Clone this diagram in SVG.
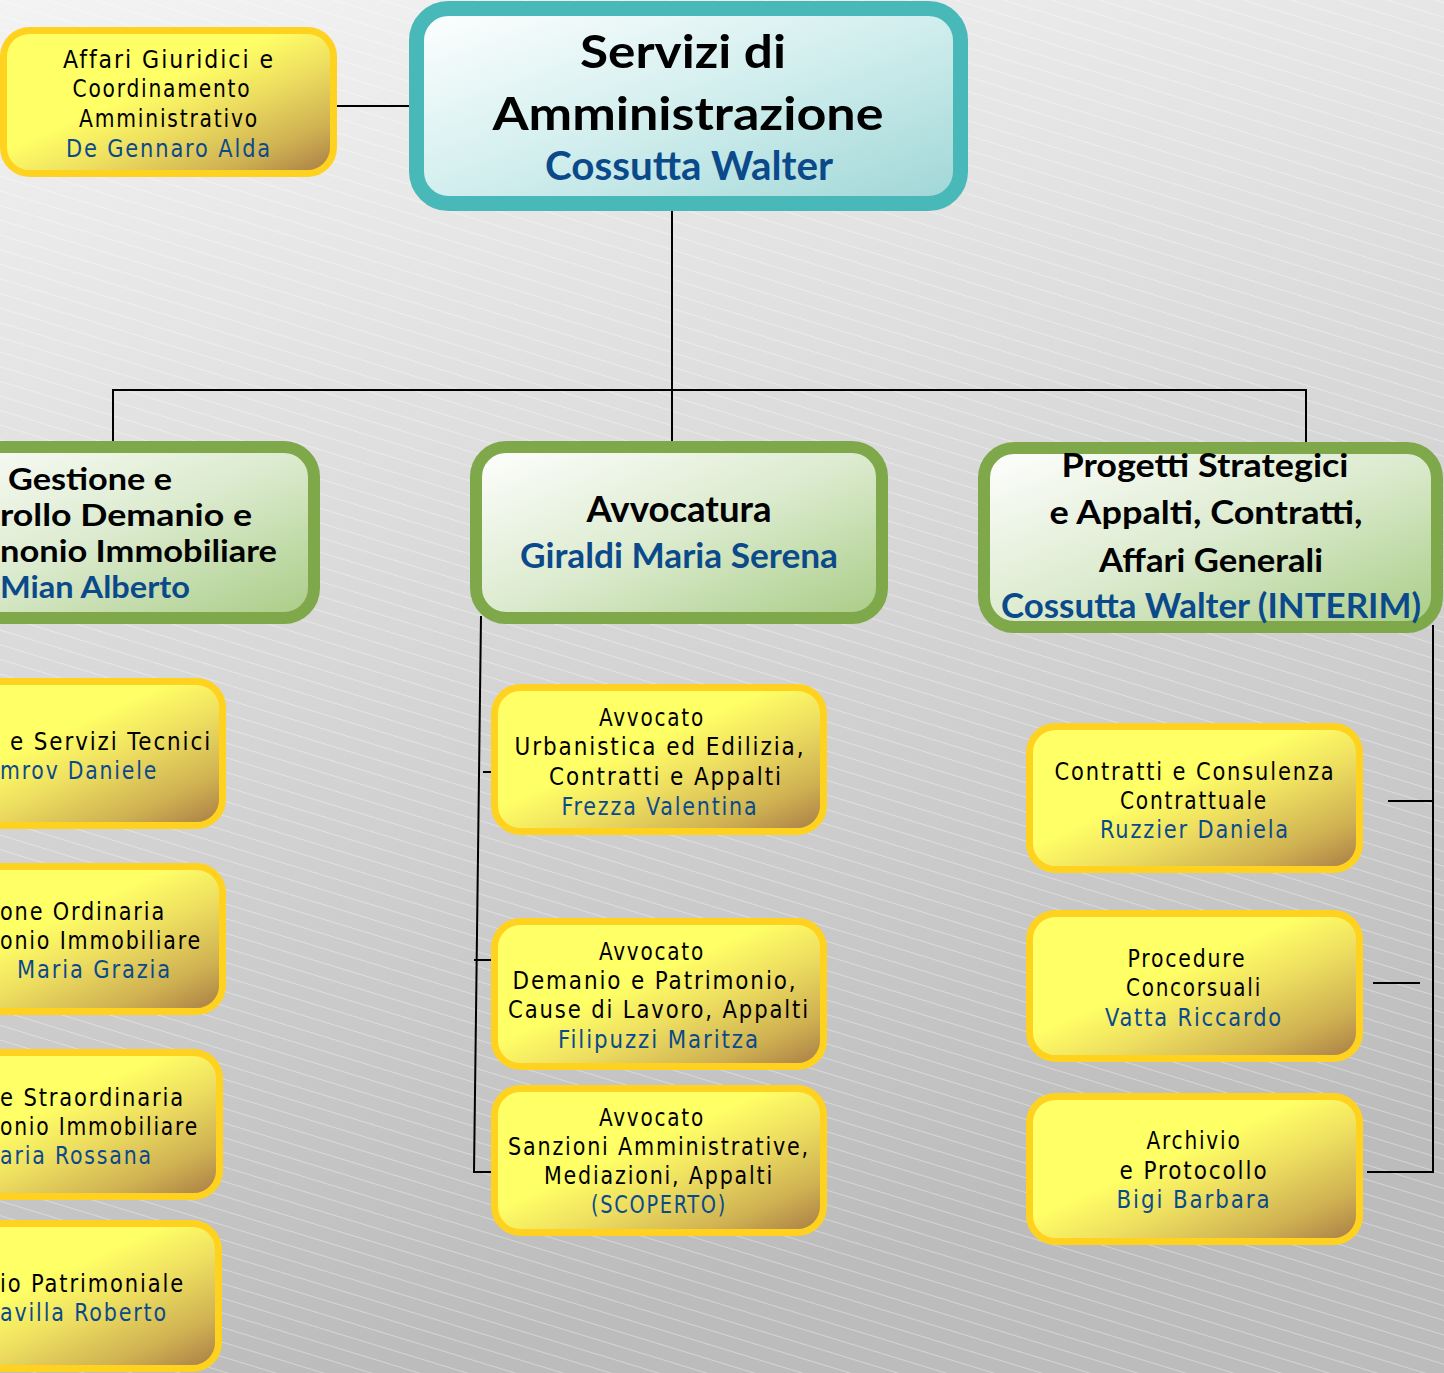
<svg xmlns="http://www.w3.org/2000/svg" width="1444" height="1373" viewBox="0 0 1444 1373">
<style>
.yb{fill:url(#gy);stroke:#ffd21f;stroke-width:7}
.gb{fill:url(#gg);stroke:#7ea84a;stroke-width:12}
.tb{fill:url(#gt);stroke:#48b8b8;stroke-width:15}
.cn{stroke:#000;stroke-width:2;fill:none}
.yt{font-family:"Liberation Sans Narrow","DejaVu Sans Condensed","Liberation Sans",sans-serif;font-stretch:condensed;font-size:25px;fill:#000;letter-spacing:2px}
.ht{font-family:Lato,"Open Sans","DejaVu Sans",sans-serif;font-weight:700;fill:#000}
.bl{fill:#0b4a8a}
</style>
<defs>
<linearGradient id="bg" x1="0" y1="0" x2="0.25" y2="1">
<stop offset="0" stop-color="#f3f3f3"/>
<stop offset="1" stop-color="#bcbcbc"/>
</linearGradient>
<pattern id="hatch" width="14" height="14" patternUnits="userSpaceOnUse" patternTransform="rotate(17)">
<line x1="0" y1="0.5" x2="14" y2="0.5" stroke="#ffffff" stroke-width="1" stroke-opacity="0.35"/>
</pattern>
<linearGradient id="gy" x1="0" y1="0" x2="1" y2="1">
<stop offset="0" stop-color="#ffff66"/>
<stop offset="0.42" stop-color="#ffff66"/>
<stop offset="0.6" stop-color="#eedf60"/>
<stop offset="0.82" stop-color="#cfb152"/>
<stop offset="1" stop-color="#a67a45"/>
</linearGradient>
<linearGradient id="gg" x1="0" y1="0" x2="1" y2="1">
<stop offset="0" stop-color="#ffffff"/>
<stop offset="0.5" stop-color="#dcebcf"/>
<stop offset="1" stop-color="#a9cc86"/>
</linearGradient>
<linearGradient id="gt" x1="0" y1="0" x2="1" y2="1">
<stop offset="0" stop-color="#ffffff"/>
<stop offset="0.5" stop-color="#d2eeee"/>
<stop offset="1" stop-color="#9fd6d6"/>
</linearGradient>
</defs>
<rect x="0" y="0" width="1444" height="1373" fill="url(#bg)"/>
<rect x="0" y="0" width="1444" height="1373" fill="url(#hatch)"/>

<g id="connectors">
<line class="cn" x1="337" y1="106" x2="409" y2="106"/>
<line class="cn" x1="672" y1="204" x2="672" y2="446"/>
<line class="cn" x1="113" y1="390" x2="1306" y2="390"/>
<line class="cn" x1="113" y1="389" x2="113" y2="441"/>
<line class="cn" x1="1306" y1="389" x2="1306" y2="446"/>
<line class="cn" x1="481" y1="616" x2="474" y2="1173"/>
<line class="cn" x1="483" y1="772" x2="492" y2="772"/>
<line class="cn" x1="474" y1="960" x2="492" y2="960"/>
<line class="cn" x1="473" y1="1172" x2="492" y2="1172"/>
<line class="cn" x1="1433" y1="625" x2="1433" y2="1173"/>
<line class="cn" x1="1388" y1="801" x2="1433" y2="801"/>
<line class="cn" x1="1373" y1="983" x2="1420" y2="983"/>
<line class="cn" x1="1367" y1="1172" x2="1434" y2="1172"/>
</g>

<g id="n-affari">
<rect class="yb" x="3.5" y="30.5" width="330" height="143" rx="26"/>
<text class="yt" x="169" y="68" text-anchor="middle" textLength="212" lengthAdjust="spacingAndGlyphs">Affari Giuridici e</text>
<text class="yt" x="162" y="97" text-anchor="middle" textLength="179" lengthAdjust="spacingAndGlyphs">Coordinamento</text>
<text class="yt" x="169" y="127" text-anchor="middle" textLength="180" lengthAdjust="spacingAndGlyphs">Amministrativo</text>
<text class="yt bl" x="169" y="157" text-anchor="middle" textLength="206" lengthAdjust="spacingAndGlyphs">De Gennaro Alda</text>
</g>

<g id="n-servizi">
<rect class="tb" x="416.5" y="8.5" width="544" height="195" rx="32"/>
<text class="ht" x="683" y="68" text-anchor="middle" font-size="46" textLength="206" lengthAdjust="spacingAndGlyphs">Servizi di</text>
<text class="ht" x="688" y="130" text-anchor="middle" font-size="46" textLength="391" lengthAdjust="spacingAndGlyphs">Amministrazione</text>
<text class="ht bl" x="689" y="180" text-anchor="middle" font-size="40" textLength="288" lengthAdjust="spacingAndGlyphs">Cossutta Walter</text>
</g>

<g id="n-gestione">
<rect class="gb" x="-100" y="447" width="414" height="171" rx="30"/>
<text class="ht" x="8" y="490" font-size="30" textLength="164" lengthAdjust="spacingAndGlyphs">Gestione e</text>
<text class="ht" x="252" y="526" text-anchor="end" font-size="30" textLength="252" lengthAdjust="spacingAndGlyphs">rollo Demanio e</text>
<text class="ht" x="277" y="562" text-anchor="end" font-size="30" textLength="277" lengthAdjust="spacingAndGlyphs">nonio Immobiliare</text>
<text class="ht bl" x="190" y="598" text-anchor="end" font-size="30" textLength="190" lengthAdjust="spacingAndGlyphs">Mian Alberto</text>
</g>

<g id="n-avvocatura">
<rect class="gb" x="476" y="447" width="406" height="171" rx="30"/>
<text class="ht" x="679" y="522" text-anchor="middle" font-size="37" textLength="185" lengthAdjust="spacingAndGlyphs">Avvocatura</text>
<text class="ht bl" x="679" y="568" text-anchor="middle" font-size="35" textLength="318" lengthAdjust="spacingAndGlyphs">Giraldi Maria Serena</text>
</g>

<g id="n-progetti">
<rect class="gb" x="984" y="448" width="453" height="179" rx="30"/>
<text class="ht" x="1205" y="477" text-anchor="middle" font-size="33" textLength="287" lengthAdjust="spacingAndGlyphs">Progetti Strategici</text>
<text class="ht" x="1206" y="524" text-anchor="middle" font-size="33" textLength="313" lengthAdjust="spacingAndGlyphs">e Appalti, Contratti,</text>
<text class="ht" x="1211" y="572" text-anchor="middle" font-size="33" textLength="224" lengthAdjust="spacingAndGlyphs">Affari Generali</text>
<text class="ht bl" x="1211" y="618" text-anchor="middle" font-size="35" textLength="420" lengthAdjust="spacingAndGlyphs">Cossutta Walter (INTERIM)</text>
</g>

<g id="n-servizi-tecnici">
<rect class="yb" x="-100" y="681.5" width="322.5" height="144" rx="26"/>
<text class="yt" x="212" y="750" text-anchor="end" textLength="202" lengthAdjust="spacingAndGlyphs">e Servizi Tecnici</text>
<text class="yt bl" x="158" y="779" text-anchor="end" textLength="158" lengthAdjust="spacingAndGlyphs">mrov Daniele</text>
</g>

<g id="n-gestione-ordinaria">
<rect class="yb" x="-100" y="866.5" width="322.5" height="145" rx="26"/>
<text class="yt" x="166" y="920" text-anchor="end" textLength="166" lengthAdjust="spacingAndGlyphs">one Ordinaria</text>
<text class="yt" x="202" y="949" text-anchor="end" textLength="202" lengthAdjust="spacingAndGlyphs">onio Immobiliare</text>
<text class="yt bl" x="172" y="978" text-anchor="end" textLength="155" lengthAdjust="spacingAndGlyphs">Maria Grazia</text>
</g>

<g id="n-gestione-straordinaria">
<rect class="yb" x="-100" y="1052.5" width="319.5" height="144" rx="26"/>
<text class="yt" x="185" y="1106" text-anchor="end" textLength="185" lengthAdjust="spacingAndGlyphs">e Straordinaria</text>
<text class="yt" x="199" y="1135" text-anchor="end" textLength="199" lengthAdjust="spacingAndGlyphs">onio Immobiliare</text>
<text class="yt bl" x="153" y="1164" text-anchor="end" textLength="153" lengthAdjust="spacingAndGlyphs">aria Rossana</text>
</g>

<g id="n-patrimoniale">
<rect class="yb" x="-100" y="1223.5" width="318.5" height="145" rx="26"/>
<text class="yt" x="185" y="1292" text-anchor="end" textLength="185" lengthAdjust="spacingAndGlyphs">io Patrimoniale</text>
<text class="yt bl" x="168" y="1321" text-anchor="end" textLength="168" lengthAdjust="spacingAndGlyphs">avilla Roberto</text>
</g>

<g id="n-avv-urbanistica">
<rect class="yb" x="494.5" y="687.5" width="329" height="144" rx="26"/>
<text class="yt" x="652" y="726" text-anchor="middle" textLength="106" lengthAdjust="spacingAndGlyphs">Avvocato</text>
<text class="yt" x="660" y="755" text-anchor="middle" textLength="291" lengthAdjust="spacingAndGlyphs">Urbanistica ed Edilizia,</text>
<text class="yt" x="666" y="785" text-anchor="middle" textLength="234" lengthAdjust="spacingAndGlyphs">Contratti e Appalti</text>
<text class="yt bl" x="660" y="815" text-anchor="middle" textLength="197" lengthAdjust="spacingAndGlyphs">Frezza Valentina</text>
</g>

<g id="n-avv-demanio">
<rect class="yb" x="494.5" y="921.5" width="329" height="145" rx="26"/>
<text class="yt" x="652" y="960" text-anchor="middle" textLength="106" lengthAdjust="spacingAndGlyphs">Avvocato</text>
<text class="yt" x="655" y="989" text-anchor="middle" textLength="285" lengthAdjust="spacingAndGlyphs">Demanio e Patrimonio,</text>
<text class="yt" x="659" y="1018" text-anchor="middle" textLength="302" lengthAdjust="spacingAndGlyphs">Cause di Lavoro, Appalti</text>
<text class="yt bl" x="659" y="1048" text-anchor="middle" textLength="202" lengthAdjust="spacingAndGlyphs">Filipuzzi Maritza</text>
</g>

<g id="n-avv-sanzioni">
<rect class="yb" x="494.5" y="1088.5" width="329" height="144" rx="26"/>
<text class="yt" x="652" y="1126" text-anchor="middle" textLength="106" lengthAdjust="spacingAndGlyphs">Avvocato</text>
<text class="yt" x="659" y="1155" text-anchor="middle" textLength="302" lengthAdjust="spacingAndGlyphs">Sanzioni Amministrative,</text>
<text class="yt" x="659" y="1184" text-anchor="middle" textLength="230" lengthAdjust="spacingAndGlyphs">Mediazioni, Appalti</text>
<text class="yt bl" x="659" y="1213" text-anchor="middle" textLength="136" lengthAdjust="spacingAndGlyphs">(SCOPERTO)</text>
</g>

<g id="n-contratti">
<rect class="yb" x="1029.5" y="726.5" width="330" height="143" rx="26"/>
<text class="yt" x="1195" y="780" text-anchor="middle" textLength="281" lengthAdjust="spacingAndGlyphs">Contratti e Consulenza</text>
<text class="yt" x="1194" y="809" text-anchor="middle" textLength="148" lengthAdjust="spacingAndGlyphs">Contrattuale</text>
<text class="yt bl" x="1195" y="838" text-anchor="middle" textLength="190" lengthAdjust="spacingAndGlyphs">Ruzzier Daniela</text>
</g>

<g id="n-procedure">
<rect class="yb" x="1029.5" y="913.5" width="330" height="145" rx="26"/>
<text class="yt" x="1187" y="967" text-anchor="middle" textLength="119" lengthAdjust="spacingAndGlyphs">Procedure</text>
<text class="yt" x="1194" y="996" text-anchor="middle" textLength="136" lengthAdjust="spacingAndGlyphs">Concorsuali</text>
<text class="yt bl" x="1194" y="1026" text-anchor="middle" textLength="178" lengthAdjust="spacingAndGlyphs">Vatta Riccardo</text>
</g>

<g id="n-archivio">
<rect class="yb" x="1029.5" y="1096.5" width="330" height="145" rx="26"/>
<text class="yt" x="1194" y="1149" text-anchor="middle" textLength="95" lengthAdjust="spacingAndGlyphs">Archivio</text>
<text class="yt" x="1194" y="1179" text-anchor="middle" textLength="149" lengthAdjust="spacingAndGlyphs">e Protocollo</text>
<text class="yt bl" x="1194" y="1208" text-anchor="middle" textLength="155" lengthAdjust="spacingAndGlyphs">Bigi Barbara</text>
</g>
</svg>
